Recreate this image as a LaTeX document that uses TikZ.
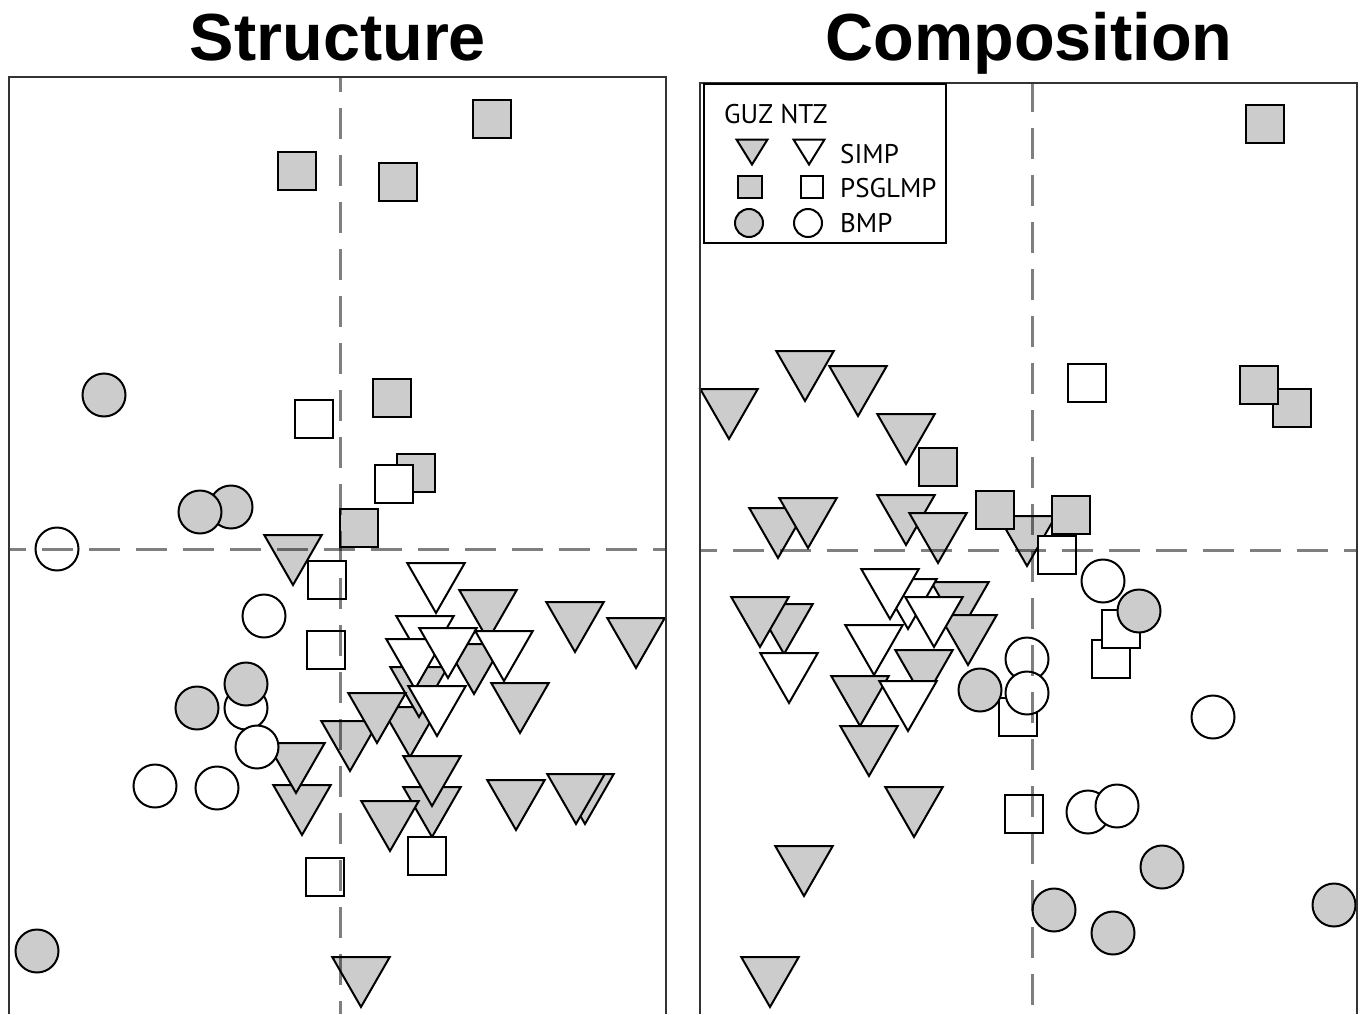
\documentclass[tikz,border=0pt]{standalone}
\usepackage{fontspec}
\setmainfont{Liberation Sans}
\newfontfamily\legfont{PT Sans}
\definecolor{mkgray}{HTML}{CCCCCC}
\definecolor{framec}{HTML}{333333}
\tikzset{
 mk/.style={draw=black, line width=2pt, line join=miter},
 gtri/.pic={\path[mk,fill=mkgray] (-28.75,-25) -- (28.75,-25) -- (0,25) -- cycle;},
 wtri/.pic={\path[mk,fill=white] (-28.75,-25) -- (28.75,-25) -- (0,25) -- cycle;},
 gsq/.pic={\path[mk,fill=mkgray] (-19.2,-19.2) rectangle (19.2,19.2);},
 wsq/.pic={\path[mk,fill=white] (-19.2,-19.2) rectangle (19.2,19.2);},
 gcir/.pic={\path[mk,fill=mkgray] (0,0) circle[radius=21.5pt];},
 wcir/.pic={\path[mk,fill=white] (0,0) circle[radius=21.5pt];},
 lgtri/.pic={\path[mk,fill=mkgray] (-15.5,-12.5) -- (15.5,-12.5) -- (0,12.5) -- cycle;},
 lwtri/.pic={\path[mk,fill=white] (-15.5,-12.5) -- (15.5,-12.5) -- (0,12.5) -- cycle;},
 lgsq/.pic={\path[mk,fill=mkgray] (-12,-11) rectangle (12,11);},
 lwsq/.pic={\path[mk,fill=white] (-11,-11) rectangle (11,11);},
 lgcir/.pic={\path[mk,fill=mkgray] (0,0) circle[radius=14pt];},
 lwcir/.pic={\path[mk,fill=white] (0,0) circle[radius=14pt];},
 dashl/.style={line width=3pt, draw=black, draw opacity=0.5, dash pattern=on 31pt off 16pt},
 frm/.style={draw=framec, line width=2.2pt},
 ttl/.style={font=\fontsize{66.6}{70}\selectfont\bfseries, anchor=base, inner sep=0pt},
 legtxt/.style={font=\legfont\fontsize{27}{30}\selectfont, anchor=base west, inner sep=0pt},
}
\begin{document}
\begin{tikzpicture}[x=1pt,y=-1pt]
\useasboundingbox (0,0) rectangle (1364,1014);
% titles
\node[ttl] (tS) at (338,61) {Structure};
\node[ttl] (tC) at (1029,61) {Composition};

% ===== LEFT PANEL =====
\foreach \p in {(293,560),(488,615),(575,627),(636,643),(474,669),(410,732),(419,692),(350,746),(377,718),(520,708),(302,810),(296,768),(432,812),(432,781),(390,826),(516,805),(585,799),(576,799),(361,982)}
  \pic at \p {gtri};
\foreach \p in {(436,588),(425,641),(415,664),(448,653),(504,656),(437,711)}
  \pic at \p {wtri};
\foreach \p in {(492,119),(297,171),(398,182),(392,398),(416,473),(359,528)}
  \pic at \p {gsq};
\foreach \p in {(314,419),(394,484),(327,580),(326,650),(427,856),(325,877)}
  \pic at \p {wsq};
\foreach \p in {(57,549),(264,616),(246,708),(257,747),(155,786),(217,788)}
  \pic at \p {wcir};
\foreach \p in {(104,395),(231,507),(200,512),(246,684),(197,708),(37,951)}
  \pic at \p {gcir};

\coordinate (LvT) at (340,77);
\coordinate (LvB) at (340,1014);
\coordinate (LhL) at (9,549);
\coordinate (LhR) at (666,549);
\draw[dashl, dash phase=16pt] (LvT) -- (LvB);
\draw[dashl, dash phase=14pt] (LhL) -- (LhR);

\coordinate (L1) at (9,1014);
\coordinate (L2) at (9,77);
\coordinate (L3) at (666,77);
\coordinate (L4) at (666,1014);
\draw[frm] (L1) -- (L2) -- (L3) -- (L4);

% ===== RIGHT PANEL =====
\foreach \p in {(729,414),(805,376),(858,391),(906,439),(778,533),(808,523),(906,520),(938,538),(1027,541),(784,629),(760,622),(960,607),(968,640),(924,675),(860,701),(869,751),(914,812),(804,871),(770,982)}
  \pic at \p {gtri};
\foreach \p in {(908,604),(934,622),(890,594),(874,650),(908,706),(789,678)}
  \pic at \p {wtri};
\foreach \p in {(938,467),(995,510),(1071,515),(1265,124),(1292,408),(1259,385)}
  \pic at \p {gsq};
\foreach \p in {(1087,383),(1057,555),(1018,717),(1024,814),(1111,659),(1121,629)}
  \pic at \p {wsq};
\foreach \p in {(1103,581),(1027,659),(1027,693),(1213,717),(1088,812),(1117,806)}
  \pic at \p {wcir};
\foreach \p in {(980,690),(1139,611),(1162,867),(1054,910),(1113,933),(1334,905)}
  \pic at \p {gcir};

\coordinate (RvT) at (1032,83);
\coordinate (RvB) at (1032,1014);
\coordinate (RhL) at (700,550);
\coordinate (RhR) at (1357,550);
\draw[dashl, dash phase=2pt] (RvT) -- (RvB);
\draw[dashl, dash phase=14pt] (RhL) -- (RhR);

\coordinate (R1) at (700,1014);
\coordinate (R2) at (700,83);
\coordinate (R3) at (1357,83);
\coordinate (R4) at (1357,1014);
\draw[frm] (R1) -- (R2) -- (R3) -- (R4);

% legend
\coordinate (lgA) at (704,84);
\coordinate (lgB) at (946,243);
\draw[line width=2.5pt, fill=white] (lgA) rectangle (lgB);
\node[legtxt] (lgH) at (724,124) {GUZ NTZ};
\pic at (752,152) {lgtri};
\pic at (809,152) {lwtri};
\pic at (750,187) {lgsq};
\pic at (812,187) {lwsq};
\pic at (749,223) {lgcir};
\pic at (808,223) {lwcir};
\node[legtxt] (lg1) at (840,163) {SIMP};
\node[legtxt] (lg2) at (840,197) {PSGLMP};
\node[legtxt] (lg3) at (840,232) {BMP};
\end{tikzpicture}
\end{document}
